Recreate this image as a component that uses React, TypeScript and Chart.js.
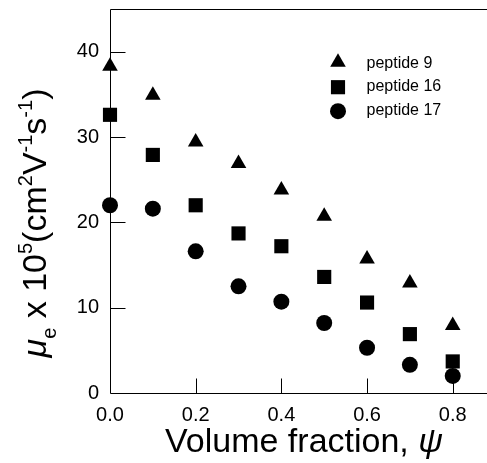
import React, { useEffect, useRef } from 'react';
import { Chart, registerables } from 'chart.js';

Chart.register(...registerables);

// ---- data ----
const volumeFraction = [0.0, 0.1, 0.2, 0.3, 0.4, 0.5, 0.6, 0.7, 0.8];
const peptide9 = [38.3, 34.9, 29.4, 26.9, 23.8, 20.7, 15.7, 12.9, 7.9];
const peptide16 = [32.6, 27.9, 22.0, 18.7, 17.2, 13.6, 10.6, 6.9, 3.7];
const peptide17 = [22.0, 21.6, 16.6, 12.5, 10.7, 8.2, 5.3, 3.3, 2.0];
const seriesNames = ['peptide 9', 'peptide 16', 'peptide 17'];
const xTicks = [0.0, 0.2, 0.4, 0.6, 0.8];
const yTicks = [0, 10, 20, 30, 40];

const FONT = "'Liberation Sans', Arial, Helvetica, sans-serif";
const W = 487;
const H = 463;

const styles = [
  { pointStyle: 'triangle', radius: 9 },
  { pointStyle: 'rect', radius: 10 },
  { pointStyle: 'circle', radius: 8 },
];

function drawMarker(ctx: CanvasRenderingContext2D, style: string, r: number, x: number, y: number) {
  ctx.beginPath();
  if (style === 'triangle') {
    let rad = 0;
    ctx.moveTo(x + Math.sin(rad) * r, y - Math.cos(rad) * r);
    rad += (2 * Math.PI) / 3;
    ctx.lineTo(x + Math.sin(rad) * r, y - Math.cos(rad) * r);
    rad += (2 * Math.PI) / 3;
    ctx.lineTo(x + Math.sin(rad) * r, y - Math.cos(rad) * r);
    ctx.closePath();
  } else if (style === 'rect') {
    const s = Math.SQRT1_2 * r;
    ctx.rect(x - s, y - s, 2 * s, 2 * s);
  } else {
    ctx.arc(x, y, r, 0, Math.PI * 2);
  }
  ctx.fill();
}

type Seg = { t: string; kind?: 'sup' | 'sub'; italic?: boolean };

const yTitleSegs: Seg[] = [
  { t: '\u03bc', italic: true },
  { t: 'e', kind: 'sub' },
  { t: ' x 10' },
  { t: '5', kind: 'sup' },
  { t: '(cm' },
  { t: '2', kind: 'sup' },
  { t: 'V' },
  { t: '-1', kind: 'sup' },
  { t: 's' },
  { t: '-1', kind: 'sup' },
  { t: ')' },
];

function drawRich(ctx: CanvasRenderingContext2D, segs: Seg[], main: number, small: number) {
  const fontFor = (s: Seg) => `${s.italic ? 'italic ' : ''}${s.kind ? small : main}px ${FONT}`;
  let total = 0;
  const widths = segs.map((s) => {
    ctx.font = fontFor(s);
    const w = ctx.measureText(s.t).width;
    total += w;
    return w;
  });
  let x = -total / 2;
  segs.forEach((s, i) => {
    ctx.font = fontFor(s);
    const dy = s.kind === 'sup' ? -main * 0.42 : s.kind === 'sub' ? main * 0.28 : 0;
    ctx.fillText(s.t, x, dy);
    x += widths[i];
  });
}

const paperPlugin = {
  id: 'paper',
  beforeDraw(chart: any) {
    const ctx = chart.ctx;
    ctx.save();
    ctx.fillStyle = '#fff';
    ctx.fillRect(0, 0, chart.width, chart.height);
    ctx.restore();
  },
  beforeDatasetsDraw(chart: any) {
    const { ctx, chartArea: a, scales } = chart;
    const x = scales.x;
    const y = scales.y;
    ctx.save();
    ctx.strokeStyle = '#000';
    ctx.lineWidth = 1;
    ctx.beginPath();
    const L = Math.round(a.left) + 0.5;
    const B = Math.round(a.bottom) + 0.5;
    const T = Math.round(a.top) + 0.5;
    ctx.moveTo(L, T);
    ctx.lineTo(L, B);
    ctx.lineTo(W, B);
    ctx.moveTo(L, T);
    ctx.lineTo(W, T);
    yTicks.forEach((v) => {
      if (v === 0) return;
      const py = Math.round(y.getPixelForValue(v)) + 0.5;
      ctx.moveTo(L, py);
      ctx.lineTo(L + 15, py);
    });
    xTicks.forEach((v) => {
      if (v === 0) return;
      const px = Math.round(x.getPixelForValue(v)) + 0.5;
      ctx.moveTo(px, B);
      ctx.lineTo(px, B - 15);
    });
    ctx.stroke();
    ctx.restore();
  },
  afterDraw(chart: any) {
    const ctx = chart.ctx as CanvasRenderingContext2D;
    ctx.save();
    ctx.fillStyle = '#000';
    const rowsMarker = [62.3, 87.2, 111.2];
    const rowsText = [63.5, 86.8, 110.8];
    seriesNames.forEach((name, i) => {
      drawMarker(ctx, styles[i].pointStyle, styles[i].radius, 338, rowsMarker[i]);
      ctx.font = `16px ${FONT}`;
      ctx.textAlign = 'left';
      ctx.textBaseline = 'middle';
      ctx.fillText(name, 366.5, rowsText[i]);
    });
    ctx.textBaseline = 'alphabetic';
    ctx.textAlign = 'left';
    ctx.font = `34px ${FONT}`;
    const part1 = 'Volume fraction, ';
    const w1 = ctx.measureText(part1).width;
    ctx.font = `italic 34px ${FONT}`;
    const w2 = ctx.measureText('\u03c8').width;
    const x0 = 304 - (w1 + w2) / 2;
    ctx.font = `34px ${FONT}`;
    ctx.fillText(part1, x0, 452);
    ctx.font = `italic 34px ${FONT}`;
    ctx.fillText('\u03c8', x0 + w1, 452);
    ctx.save();
    ctx.translate(46, 223);
    ctx.rotate(-Math.PI / 2);
    ctx.textAlign = 'left';
    ctx.textBaseline = 'alphabetic';
    drawRich(ctx, yTitleSegs, 34, 20);
    ctx.restore();
    ctx.restore();
  },
};

export default function App() {
  const ref = useRef<HTMLCanvasElement | null>(null);
  useEffect(() => {
    if (!ref.current) return;
    const seriesValues = [peptide9, peptide16, peptide17];
    const chart = new Chart(ref.current, {
      type: 'scatter',
      data: {
        datasets: seriesValues.map((vals, i) => ({
          label: seriesNames[i],
          data: vals.map((v, j) => ({ x: volumeFraction[j], y: v })),
          pointStyle: styles[i].pointStyle as any,
          pointRadius: styles[i].radius,
          pointHoverRadius: styles[i].radius,
          backgroundColor: '#000',
          borderColor: '#000',
          borderWidth: 0,
          pointBorderWidth: 0,
          clip: false as any,
        })),
      },
      options: {
        responsive: false,
        animation: false,
        events: [],
        layout: { autoPadding: false, padding: { top: 9, right: 0, left: 0, bottom: 0 } },
        plugins: { legend: { display: false }, tooltip: { enabled: false }, title: { display: false } },
        scales: {
          x: {
            type: 'linear',
            min: 0,
            max: 0.88,
            grid: { display: false, drawTicks: false },
            border: { display: false },
            afterBuildTicks: (s: any) => {
              s.ticks = xTicks.map((v) => ({ value: v }));
            },
            afterFit: (s: any) => {
              s.height = 70;
              s.paddingLeft = 0;
              s.paddingRight = 0;
            },
            ticks: {
              padding: 10,
              color: '#000',
              font: { family: FONT, size: 20 },
              maxRotation: 0,
              autoSkip: false,
              callback: (v: any) => Number(v).toFixed(1),
            },
          },
          y: {
            type: 'linear',
            min: 0,
            max: 45,
            grid: { display: false, drawTicks: false },
            border: { display: false },
            afterBuildTicks: (s: any) => {
              s.ticks = yTicks.map((v) => ({ value: v }));
            },
            afterFit: (s: any) => {
              s.width = 110;
              s.paddingTop = 0;
              s.paddingBottom = 0;
            },
            ticks: {
              padding: 11,
              color: '#000',
              font: { family: FONT, size: 20 },
              callback: (v: any) => String(v),
            },
          },
        },
      },
      plugins: [paperPlugin],
    });
    return () => chart.destroy();
  }, []);
  return (
    <div style={{ position: 'fixed', left: 0, top: 0, width: W, height: H, background: '#fff' }}>
      <canvas ref={ref} width={W} height={H} style={{ display: 'block' }} />
    </div>
  );
}
